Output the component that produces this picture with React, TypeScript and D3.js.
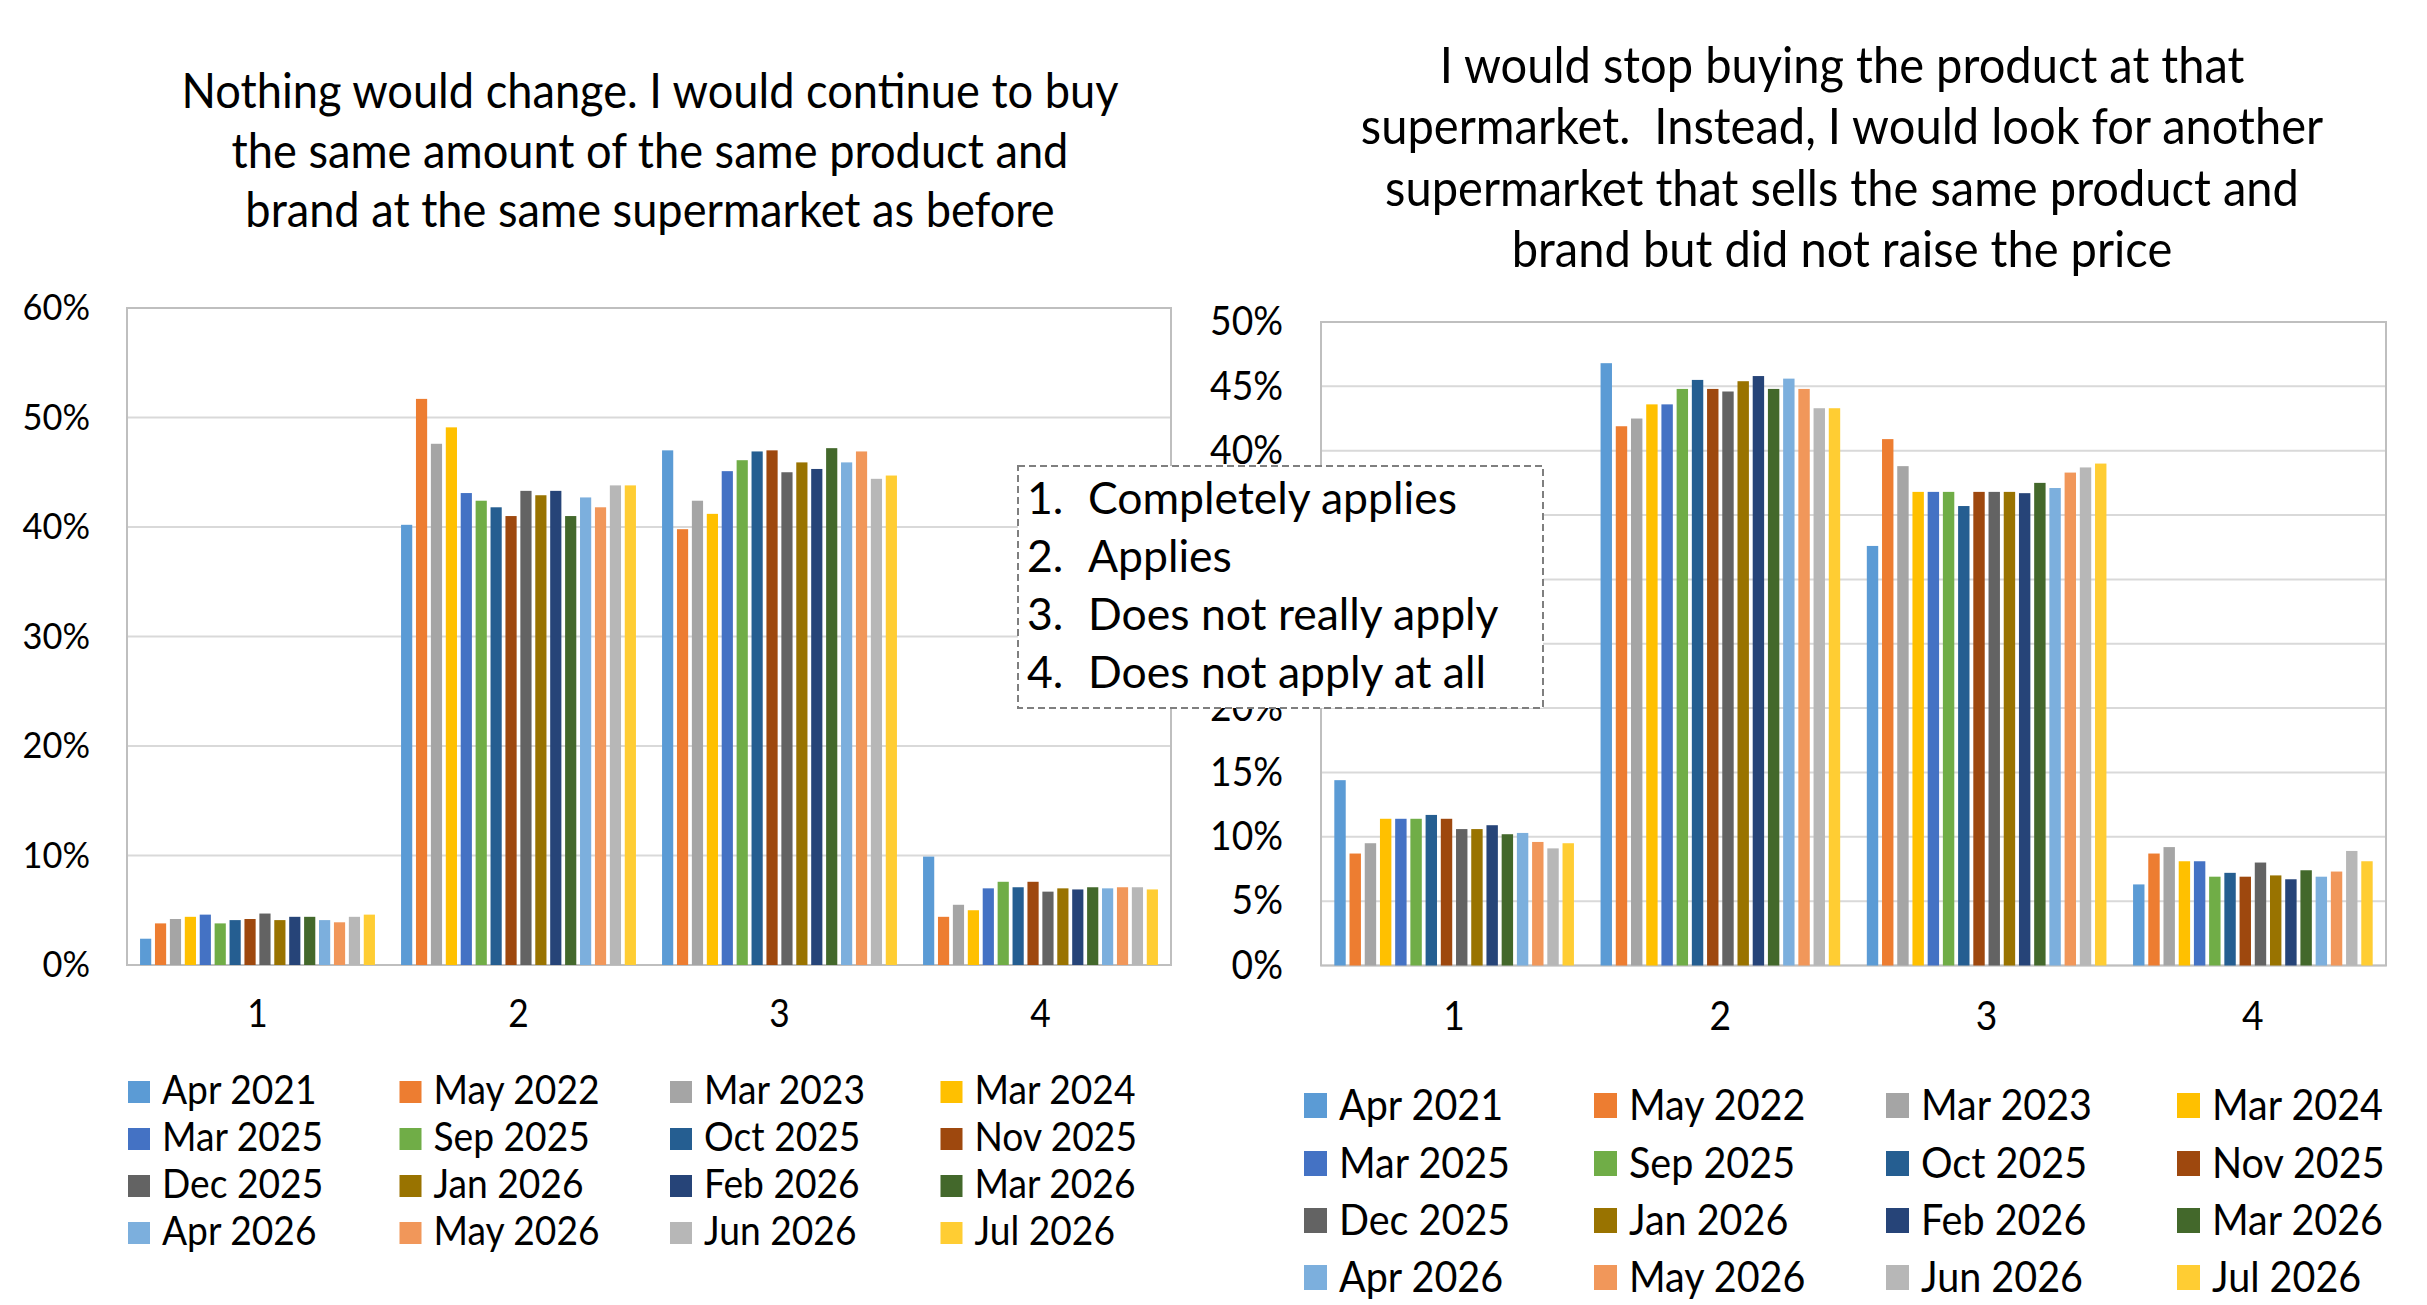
import React from 'react'
import * as d3 from 'd3'

// series (survey waves) in legend order
const SERIES = [
  'Apr 2021', 'May 2022', 'Mar 2023', 'Mar 2024',
  'Mar 2025', 'Sep 2025', 'Oct 2025', 'Nov 2025',
  'Dec 2025', 'Jan 2026', 'Feb 2026', 'Mar 2026',
  'Apr 2026', 'May 2026', 'Jun 2026', 'Jul 2026',
]
const COLORS = [
  '#5B9BD5', '#ED7D31', '#A5A5A5', '#FFC000',
  '#4472C4', '#70AD47', '#255E91', '#9E480E',
  '#636363', '#997300', '#264478', '#43682B',
  '#7CAFDD', '#F1975A', '#B7B7B7', '#FFCD33',
]
const CATEGORIES = ['1', '2', '3', '4']
const ANSWERS = ['Completely applies', 'Applies', 'Does not really apply', 'Does not apply at all']

// percent, one row per answer category, one value per series
const STAY_VALUES = [
  [2.4, 3.8, 4.2, 4.4, 4.6, 3.8, 4.1, 4.2, 4.7, 4.1, 4.4, 4.4, 4.1, 3.9, 4.4, 4.6],
  [40.2, 51.7, 47.6, 49.1, 43.1, 42.4, 41.8, 41.0, 43.3, 42.9, 43.3, 41.0, 42.7, 41.8, 43.8, 43.8],
  [47.0, 39.8, 42.4, 41.2, 45.1, 46.1, 46.9, 47.0, 45.0, 45.9, 45.3, 47.2, 45.9, 46.9, 44.4, 44.7],
  [9.9, 4.4, 5.5, 5.0, 7.0, 7.6, 7.1, 7.6, 6.7, 7.0, 6.9, 7.1, 7.0, 7.1, 7.1, 6.9],
]
const SWITCH_VALUES = [
  [14.4, 8.7, 9.5, 11.4, 11.4, 11.4, 11.7, 11.4, 10.6, 10.6, 10.9, 10.2, 10.3, 9.6, 9.1, 9.5],
  [46.8, 41.9, 42.5, 43.6, 43.6, 44.8, 45.5, 44.8, 44.6, 45.4, 45.8, 44.8, 45.6, 44.8, 43.3, 43.3],
  [32.6, 40.9, 38.8, 36.8, 36.8, 36.8, 35.7, 36.8, 36.8, 36.8, 36.7, 37.5, 37.1, 38.3, 38.7, 39.0],
  [6.3, 8.7, 9.2, 8.1, 8.1, 6.9, 7.2, 6.9, 8.0, 7.0, 6.7, 7.4, 6.9, 7.3, 8.9, 8.1],
]
const STAY_TICKS = [0, 10, 20, 30, 40, 50, 60]
const SWITCH_TICKS = [0, 5, 10, 15, 20, 25, 30, 35, 40, 45, 50]

const STAY_TITLE = [
  'Nothing would change. I would continue to buy',
  'the same amount of the same product and',
  'brand at the same supermarket as before',
]
const SWITCH_TITLE = [
  'I would stop buying the product at that',
  'supermarket.  Instead, I would look for another',
  'supermarket that sells the same product and',
  'brand but did not raise the price',
]

const FONT = 'Lato, Carlito, Calibri, sans-serif'
const SX = 0.93 // Lato runs wider than Calibri

// the dashed answer key box, drawn over the right chart's axis
const BOX = { left: 1018, top: 466, right: 1543, bottom: 708 }

const T = ({ x, y, size, anchor = 'start', sx = SX, children }) => (
  <text
    transform={`translate(${x},${y}) scale(${sx},1)`}
    fontSize={size}
    fontFamily={FONT}
    textAnchor={anchor}
    fill="#000"
    style={{ whiteSpace: 'pre' }}
  >
    {children}
  </text>
)

const hidden = (x, y, size) =>
  x > BOX.left && x < BOX.right && y - size * 0.4 > BOX.top && y + size * 0.4 < BOX.bottom

const Panel = ({ values, ticks, max, title, cfg }) => {
  const { left, right, top, bottom } = cfg.plot
  const x0 = d3.scaleBand().domain(CATEGORIES).range([left, right]).paddingInner(0.1).paddingOuter(0.05)
  const x1 = d3.scaleBand().domain(SERIES).range([0, x0.bandwidth()]).paddingInner(0.25)
  const y = d3.scaleLinear().domain([0, max]).range([bottom, top])

  return (
    <g>
      {title.map((line, i) => (
        <T key={i} x={cfg.titleX} y={cfg.titleY + i * cfg.titleGap} size={cfg.titleSize} anchor="middle">
          {line}
        </T>
      ))}
      {ticks.map((t) => (
        <line key={t} x1={left} x2={right} y1={y(t)} y2={y(t)} stroke="#D9D9D9" strokeWidth={2} />
      ))}
      <rect x={left} y={top} width={right - left} height={bottom - top} fill="none" stroke="#BFBFBF" strokeWidth={2} />
      {ticks
        .filter((t) => !hidden(cfg.tickX - 20, y(t), cfg.tickSize))
        .map((t) => (
          <T key={t} x={cfg.tickX} y={y(t) + cfg.tickSize * 0.33} size={cfg.tickSize} anchor="end">
            {t + '%'}
          </T>
        ))}
      {CATEGORIES.map((c, ci) => (
        <g key={c}>
          {SERIES.map((s, si) => {
            const v = values[ci][si]
            return (
              <rect
                key={s}
                x={x0(c) + x1(s)}
                y={y(v)}
                width={x1.bandwidth()}
                height={y(0) - y(v)}
                fill={COLORS[si]}
              />
            )
          })}
          <T x={x0(c) + x0.bandwidth() / 2} y={cfg.catY} size={cfg.catSize} anchor="middle">
            {c}
          </T>
        </g>
      ))}
      {SERIES.map((s, i) => {
        const lx = cfg.legCols[i % 4]
        const ly = cfg.legRows[Math.floor(i / 4)]
        return (
          <g key={s}>
            <rect x={lx} y={ly} width={cfg.sw} height={cfg.sh} fill={COLORS[i]} />
            <T x={lx + cfg.legDx} y={ly + cfg.legDy} size={cfg.legSize}>
              {s}
            </T>
          </g>
        )
      })}
    </g>
  )
}

const stayCfg = {
  plot: { left: 127, right: 1171, top: 308, bottom: 965 },
  titleX: 650, titleY: 108, titleGap: 59.5, titleSize: 48.6,
  tickX: 90, tickSize: 37,
  catY: 1027, catSize: 38,
  legCols: [128, 399.5, 670, 940.5], legRows: [1081, 1128, 1175, 1222],
  sw: 22, sh: 22, legDx: 34, legDy: 23, legSize: 40,
}
const switchCfg = {
  plot: { left: 1321, right: 2386, top: 322, bottom: 965.5 },
  titleX: 1842, titleY: 83, titleGap: 61.3, titleSize: 50.6,
  tickX: 1283, tickSize: 40,
  catY: 1030, catSize: 40,
  legCols: [1304, 1594, 1886, 2177], legRows: [1093, 1151, 1208, 1265],
  sw: 23, sh: 25, legDx: 35, legDy: 27, legSize: 42.5,
}

export default function App() {
  return (
    <svg width={2427} height={1305} style={{ position: 'absolute', left: 0, top: 0, background: '#fff' }}>
      <Panel values={STAY_VALUES} ticks={STAY_TICKS} max={60} title={STAY_TITLE} cfg={stayCfg} />
      <Panel values={SWITCH_VALUES} ticks={SWITCH_TICKS} max={50} title={SWITCH_TITLE} cfg={switchCfg} />
      <g>
        <rect
          x={BOX.left}
          y={BOX.top}
          width={BOX.right - BOX.left}
          height={BOX.bottom - BOX.top}
          fill="#fff"
          stroke="#7F7F7F"
          strokeWidth={2}
          strokeDasharray="7,4"
        />
        {ANSWERS.map((a, i) => (
          <g key={a}>
            <T x={1027} y={514 + i * 58} size={44.5} sx={1}>{`${i + 1}.`}</T>
            <T x={1088} y={514 + i * 58} size={44.5} sx={1}>{a}</T>
          </g>
        ))}
      </g>
    </svg>
  )
}
